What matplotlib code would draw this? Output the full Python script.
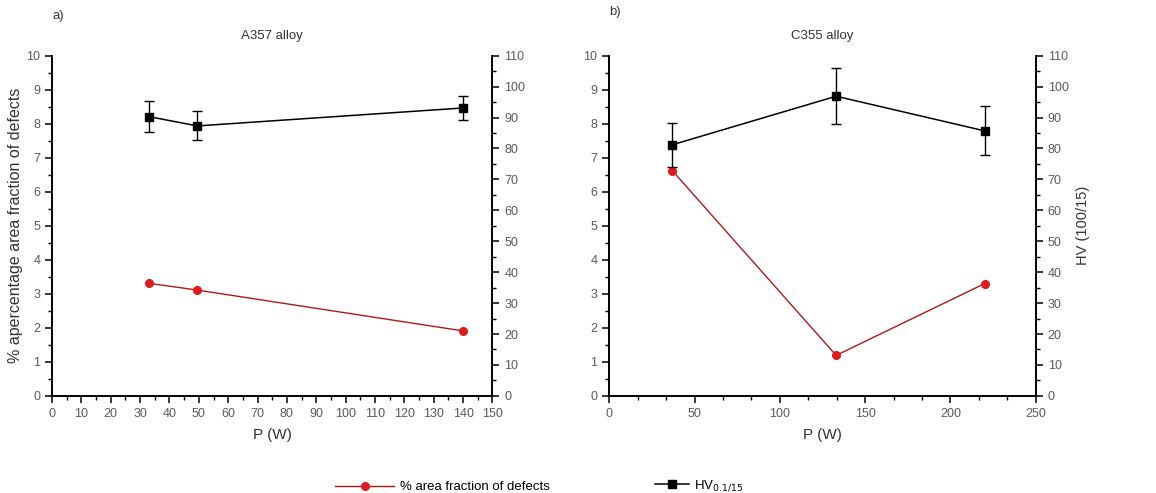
import matplotlib
matplotlib.use('Agg')
import matplotlib.pyplot as plt
from matplotlib.ticker import MultipleLocator

plt.rcParams['font.family'] = ['Liberation Sans', 'DejaVu Sans']

# A357 alloy
p_a357 = [33, 49.5, 140]
defects_a357 = [3.31, 3.11, 1.91]
hv_a357 = [90.3, 87.3, 93.1]
hv_err_a357 = [5.1, 4.7, 4.0]

# C355 alloy
p_c355 = [37, 133, 220]
defects_c355 = [6.62, 1.19, 3.30]
hv_c355 = [81.2, 96.9, 85.7]
hv_err_c355 = [7.2, 9.0, 7.9]

TICK_COLOR = '#5a5a5a'
RED_LINE = '#b01818'
RED_MARK = '#e31a1c'

fig = plt.figure(figsize=(11.56, 4.93), dpi=100)


def draw_panel(rect, p, defects, hv, hv_err, xmax, xmajor, xminor, title, tag, tag_y, right_label):
    ax = fig.add_axes(rect)
    ax2 = ax.twinx()

    ax.plot(p, defects, color=RED_LINE, linewidth=1, marker='o', markersize=5.5,
            markerfacecolor=RED_MARK, markeredgecolor=RED_MARK, zorder=3)
    ax2.errorbar(p, hv, yerr=hv_err, color='black', linewidth=1.1, marker='s',
                 markersize=6, capsize=3.5, elinewidth=1, capthick=1, zorder=3)

    ax.set_xlim(0, xmax)
    ax.set_ylim(0, 10)
    ax2.set_ylim(0, 110)
    ax.xaxis.set_major_locator(MultipleLocator(xmajor))
    ax.xaxis.set_minor_locator(MultipleLocator(xminor))
    ax.yaxis.set_major_locator(MultipleLocator(1))
    ax.yaxis.set_minor_locator(MultipleLocator(0.5))
    ax2.yaxis.set_major_locator(MultipleLocator(10))
    ax2.yaxis.set_minor_locator(MultipleLocator(5))

    for a in (ax, ax2):
        a.spines['top'].set_visible(False)
        for s in a.spines.values():
            s.set_linewidth(1.2)
        a.tick_params(which='major', direction='out', length=5, width=1.1,
                      labelsize=9, labelcolor=TICK_COLOR)
        a.tick_params(which='minor', direction='out', length=3, width=1)

    ax.set_xlabel('P (W)', fontsize=11, color='#333333', labelpad=6)
    ax.set_title(title, fontsize=9.5, color='#333333', pad=12)
    ax.text(0.0, tag_y, tag, transform=ax.transAxes, fontsize=9.5,
            color='#333333', ha='left', va='bottom')
    if right_label:
        ax2.set_ylabel('HV (100/15)', fontsize=10.5, color='#333333', labelpad=5)
    return ax, ax2


axL, axL2 = draw_panel([0.045, 0.197, 0.381, 0.69], p_a357, defects_a357, hv_a357,
                       hv_err_a357, 150, 10, 5, 'A357 alloy', 'a)', 1.1, False)
axL.set_ylabel('% apercentage area fraction of defects', fontsize=11.5,
               color='#333333', labelpad=2)

axR, axR2 = draw_panel([0.527, 0.197, 0.369, 0.69], p_c355, defects_c355, hv_c355,
                       hv_err_c355, 250, 50, 50 / 3, 'C355 alloy', 'b)', 1.11, True)

# two separate legends so each handle can have its own length
h1 = axL.get_lines()[0]
h2 = axL2.get_lines()[0]
fig.legend([h1], ['% area fraction of defects'], loc='lower left',
           bbox_to_anchor=(0.2794, -0.025), frameon=False, fontsize=9.5,
           handlelength=4.5, handletextpad=0.4)
fig.legend([h2], ['HV$_{0.1/15}$'], loc='lower left',
           bbox_to_anchor=(0.556, -0.025), frameon=False, fontsize=9.5,
           handlelength=2.6, handletextpad=0.4)

fig.savefig('out.png', dpi=100)
